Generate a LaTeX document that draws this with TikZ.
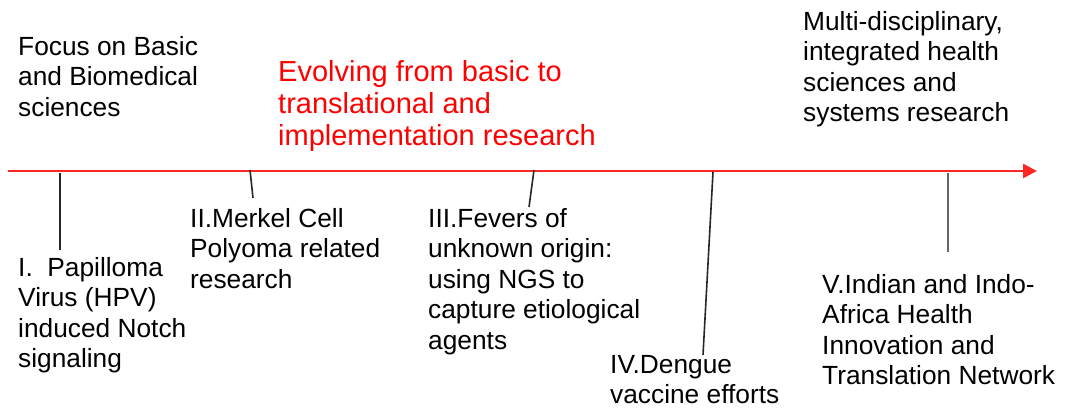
\documentclass[tikz,border=0pt]{standalone}
\usepackage{fontspec}
\setmainfont{Liberation Sans}
\usetikzlibrary{arrows.meta}
\begin{document}
\begin{tikzpicture}[x=1pt,y=-1pt,
  lbl/.style={anchor=north west,inner sep=0pt,align=left,font=\fontsize{26.3}{30.5}\selectfont},
  redlbl/.style={anchor=north west,inner sep=0pt,align=left,text=red,font=\fontsize{29}{32}\selectfont},
  tick/.style={draw=black!85,line width=1.6pt},
  axis/.style={draw=red!85!white,line width=2.6pt,-{Triangle[length=14pt,width=14pt]}}]
\useasboundingbox (0,0) rectangle (1073,410);
\coordinate (start) at (8,171);
\coordinate (end) at (1037,171);
\draw[axis] (start) -- (end);
\node[lbl] (basic) at (18,36) {Focus on Basic\\and Biomedical\\sciences};
\node[redlbl] (evol) at (278,60) {Evolving from basic to\\translational and\\implementation research};
\node[lbl] (multi) at (803,11) {Multi-disciplinary,\\integrated health\\sciences and\\systems research};
\node[lbl] (n1) at (18,257) {I.~~Papilloma\\Virus (HPV)\\induced Notch\\signaling};
\node[lbl] (n2) at (190,208) {II.Merkel Cell\\Polyoma related\\research};
\node[lbl] (n3) at (428,208) {III.Fevers of\\unknown origin:\\using NGS to\\capture etiological\\agents};
\node[lbl] (n4) at (610,355) {IV.Dengue\\vaccine efforts};
\node[lbl] (n5) at (822,274) {V.Indian and Indo-\\Africa Health\\Innovation and\\Translation Network};
\coordinate (t1a) at (60,173); \coordinate (t1b) at (60,250);
\coordinate (t2a) at (250,170); \coordinate (t2b) at (253,198);
\coordinate (t3a) at (534,170); \coordinate (t3b) at (529,207);
\coordinate (t4a) at (713,172); \coordinate (t4b) at (703,355);
\coordinate (t5a) at (948,173); \coordinate (t5b) at (948,252);
\draw[tick] (t1a) -- (t1b);
\draw[tick] (t2a) -- (t2b);
\draw[tick] (t3a) -- (t3b);
\draw[tick] (t4a) -- (t4b);
\draw[tick,draw=black!60] (t5a) -- (t5b);
\end{tikzpicture}
\end{document}
